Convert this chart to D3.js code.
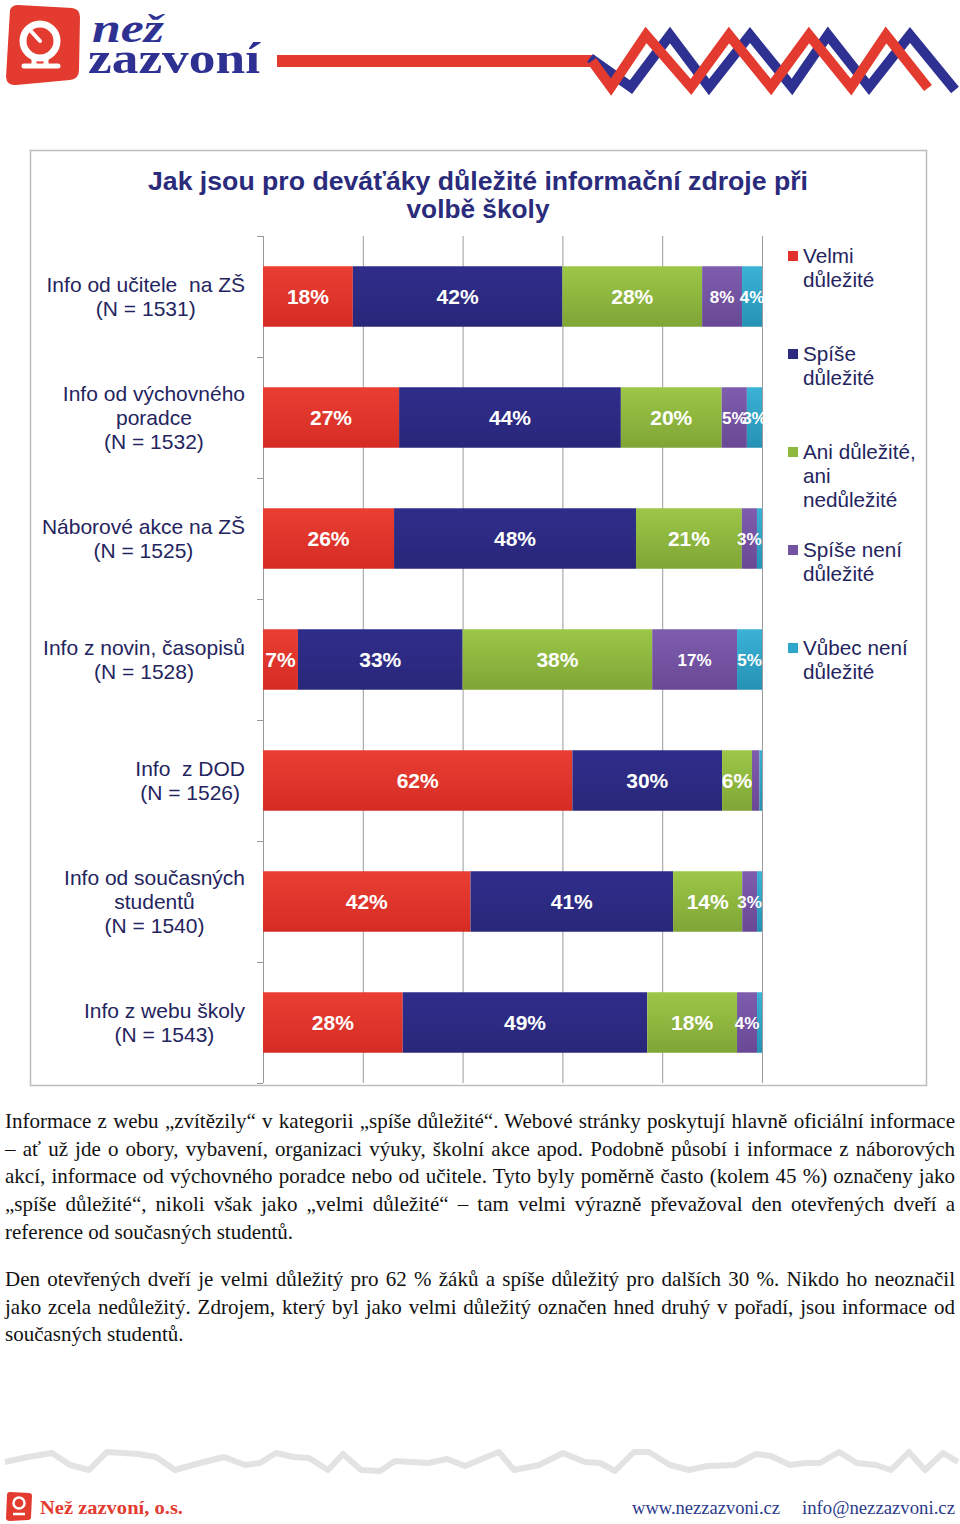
<!DOCTYPE html>
<html><head><meta charset="utf-8">
<script src="https://cdn.jsdelivr.net/npm/d3@7"></script>
<style>html,body{margin:0;padding:0;background:#fff;}svg{display:block;} text{white-space:pre;}</style>
</head><body>
<svg id="c" width="960" height="1524"></svg>
<script>
// ---------------- data ----------------
const categories = [
  "Info od učitele  na ZŠ (N = 1531)",
  "Info od výchovného poradce (N = 1532)",
  "Náborové akce na ZŠ (N = 1525)",
  "Info z novin, časopisů (N = 1528)",
  "Info  z DOD (N = 1526)",
  "Info od současných studentů (N = 1540)",
  "Info z webu školy (N = 1543)"
];
const categoryLines = [
  ["Info od učitele  na ZŠ", "(N = 1531)"],
  ["Info od výchovného", "poradce", "(N = 1532)"],
  ["Náborové akce na ZŠ", "(N = 1525)"],
  ["Info z novin, časopisů", "(N = 1528)"],
  ["Info  z DOD", "(N = 1526)"],
  ["Info od současných", "studentů", "(N = 1540)"],
  ["Info z webu školy", "(N = 1543)"]
];
const seriesNames = ["Velmi důležité", "Spíše důležité", "Ani důležité, ani nedůležité", "Spíše není důležité", "Vůbec není důležité"];
const seriesLegendLines = [["Velmi", "důležité"], ["Spíše", "důležité"], ["Ani důležité,", "ani", "nedůležité"], ["Spíše není", "důležité"], ["Vůbec není", "důležité"]];
const velmi     = [18, 27, 26, 7, 62, 42, 28];
const spise     = [42, 44, 48, 33, 30, 41, 49];
const ani       = [28, 20, 21, 38, 6, 14, 18];
const spiseNeni = [8, 5, 3, 17, 1.5, 3, 4];
const vubecNeni = [4, 3, 1, 5, 0.5, 1, 1];
const xTicks = [0, 0.2, 0.4, 0.6, 0.8, 1];
const titleLines = ["Jak jsou pro deváťáky důležité informační zdroje při", "volbě školy"];

const paragraph1 = [
  "Informace z webu „zvítězily“ v kategorii „spíše důležité“. Webové stránky poskytují hlavně oficiální informace",
  "– ať už jde o obory, vybavení, organizaci výuky, školní akce apod. Podobně působí i informace z náborových",
  "akcí, informace od výchovného poradce nebo od učitele. Tyto byly poměrně často (kolem 45 %) označeny jako",
  "„spíše důležité“, nikoli však jako „velmi důležité“ – tam velmi výrazně převažoval den otevřených dveří a",
  "reference od současných studentů."
];
const paragraph2 = [
  "Den otevřených dveří je velmi důležitý pro 62 % žáků a spíše důležitý pro dalších 30 %. Nikdo ho neoznačil",
  "jako zcela nedůležitý. Zdrojem, který byl jako velmi důležitý označen hned druhý v pořadí, jsou informace od",
  "současných studentů."
];

// ---------------- drawing ----------------
const svg = d3.select("#c");
const colors = ["#E2312A", "#2C2A80", "#8CB83C", "#7453A2", "#2DA6CA"];
const colorsTop = ["#EA3E33", "#2F2D8A", "#9CC747", "#7E5DAE", "#3BB2D6"];
const colorsBot = ["#D42C24", "#29277A", "#7FA536", "#694895", "#2592B4"];
const navy = "#24245E";

const defs = svg.append("defs");
colors.forEach((c, i) => {
  const g = defs.append("linearGradient").attr("id", "g" + i).attr("x1", 0).attr("y1", 0).attr("x2", 0).attr("y2", 1);
  g.append("stop").attr("offset", "0%").attr("stop-color", colorsTop[i]);
  g.append("stop").attr("offset", "100%").attr("stop-color", colorsBot[i]);
});

// ---- header ----
const hdr = svg.append("g");
hdr.append("path").attr("d", "M10,10 Q12,5 18,5 L72,8 Q80,9 80,17 L79,70 Q79,79 70,80 L16,85 Q7,86 6,77 Z").attr("fill", "#E33B2F");
hdr.append("circle").attr("cx", 40).attr("cy", 41).attr("r", 17).attr("fill", "none").attr("stroke", "#fff").attr("stroke-width", 7);
hdr.append("path").attr("d", "M40,41 L30,30").attr("stroke", "#fff").attr("stroke-width", 4).attr("stroke-linecap", "round");
hdr.append("path").attr("d", "M24,66 L58,66 M34,58 L34,66 M46,58 L46,66").attr("stroke", "#fff").attr("stroke-width", 5).attr("stroke-linecap", "round");
hdr.append("text").attr("x", 92).attr("y", 42).attr("font-family", "Liberation Serif").attr("font-weight", "bold").attr("font-style", "italic")
  .attr("font-size", 40).attr("fill", "#2E3192").attr("textLength", 72).attr("lengthAdjust", "spacingAndGlyphs").text("než");
hdr.append("text").attr("x", 88).attr("y", 73).attr("font-family", "Liberation Serif").attr("font-weight", "bold")
  .attr("font-size", 44).attr("fill", "#2E3192").attr("textLength", 172).attr("lengthAdjust", "spacingAndGlyphs").text("zazvoní");
hdr.append("rect").attr("x", 277).attr("y", 55).attr("width", 318).attr("height", 12).attr("fill", "#E33B2F");
hdr.append("polyline").attr("points", "590,58 631,87 670,35 709,87 750,35 792,87 828,35 869,87 910,35 955,90")
  .attr("fill", "none").attr("stroke", "#2E3192").attr("stroke-width", 10).attr("stroke-linejoin", "miter");
hdr.append("polyline").attr("points", "592,61 611,87 646,35 691,87 729,35 771,87 809,35 851,87 886,35 928,88")
  .attr("fill", "none").attr("stroke", "#E33B2F").attr("stroke-width", 10).attr("stroke-linejoin", "miter");

// ---- chart frame ----
svg.append("rect").attr("x", 30.5).attr("y", 150.5).attr("width", 896).attr("height", 935)
  .attr("fill", "#fff").attr("stroke", "#bdbdbd").attr("stroke-width", 1.5);

// title
titleLines.forEach((t, i) => {
  svg.append("text").attr("x", 478).attr("y", 190 + i * 28).attr("text-anchor", "middle")
    .attr("font-family", "Liberation Sans").attr("font-weight", "bold").attr("font-size", 26).attr("fill", "#2B2B7C")
    .attr("textLength", i === 0 ? 660 : 143).attr("lengthAdjust", "spacingAndGlyphs").text(t);
});

// scales
const x = d3.scaleLinear().domain([0, 1]).range([263, 762]);
const y = d3.scaleBand().domain(categories).range([236, 1083]).paddingInner(0.5).paddingOuter(0.25);

// gridlines
svg.append("g").selectAll("line").data(xTicks).join("line")
  .attr("x1", d => x(d) + 0.5).attr("x2", d => x(d) + 0.5).attr("y1", 236).attr("y2", 1083)
  .attr("stroke", "#9a9a9a").attr("stroke-width", 1);
// y axis ticks
const step = y.step();
const bounds = d3.range(categories.length + 1).map(k => 236 + k * step);
svg.append("g").selectAll("line").data(bounds).join("line")
  .attr("x1", 257).attr("x2", 263).attr("y1", d => d + 0.5).attr("y2", d => d + 0.5)
  .attr("stroke", "#9a9a9a").attr("stroke-width", 1);

// stack
const rows = categories.map((c, i) => ({cat: c, s0: velmi[i], s1: spise[i], s2: ani[i], s3: spiseNeni[i], s4: vubecNeni[i]}));
const keys = ["s0", "s1", "s2", "s3", "s4"];
const stacked = d3.stack().keys(keys).offset(d3.stackOffsetExpand)(rows);

const gBars = svg.append("g");
stacked.forEach((layer, si) => {
  gBars.append("g").selectAll("rect").data(layer).join("rect")
    .attr("x", d => x(d[0])).attr("width", d => Math.max(0, x(d[1]) - x(d[0])))
    .attr("y", d => y(d.data.cat)).attr("height", y.bandwidth())
    .attr("fill", "url(#g" + si + ")");
});
// labels
stacked.forEach((layer, si) => {
  gBars.append("g").selectAll("text").data(layer.filter(d => d.data[keys[si]] >= 2)).join("text")
    .attr("x", d => (x(d[0]) + x(d[1])) / 2)
    .attr("y", d => y(d.data.cat) + y.bandwidth() / 2)
    .attr("dy", "0.36em").attr("text-anchor", "middle")
    .attr("font-family", "Liberation Sans").attr("font-weight", "bold")
    .attr("font-size", si >= 3 ? 17 : 21).attr("fill", "#fff")
    .text(d => d.data[keys[si]] + "%");
});

// category labels
categories.forEach((c, i) => {
  const lines = categoryLines[i];
  const cy = y(c) + y.bandwidth() / 2;
  const t = svg.append("text").attr("font-family", "Liberation Sans").attr("font-size", 21).attr("fill", navy).attr("text-anchor", "middle");
  lines.forEach((l, j) => t.append("tspan").attr("y", cy - (lines.length - 1) * 12 + j * 24 + 7).text(l));
  let maxW = 0;
  t.selectAll("tspan").each(function () { maxW = Math.max(maxW, this.getComputedTextLength()); });
  t.selectAll("tspan").attr("x", 245 - maxW / 2);
});

// legend
seriesLegendLines.forEach((lines, i) => {
  const cy = 256 + i * 98;
  svg.append("rect").attr("x", 788).attr("y", cy - 5).attr("width", 10).attr("height", 10).attr("fill", colors[i]);
  const t = svg.append("text").attr("font-family", "Liberation Sans").attr("font-size", 20.7).attr("fill", navy);
  lines.forEach((l, j) => t.append("tspan").attr("x", 803).attr("y", cy + 7 + j * 24).text(l));
});

// ---- paragraphs ----
function drawPara(lines, y0) {
  lines.forEach((l, i) => {
    const t = svg.append("text").attr("x", 5).attr("y", y0 + i * 27.7)
      .attr("font-family", "Liberation Serif").attr("font-size", 21).attr("fill", "#111").text(l);
    if (i < lines.length - 1) {
      const w = t.node().getComputedTextLength();
      const spaces = (l.match(/ /g) || []).length;
      if (spaces > 0) t.attr("word-spacing", (950 - w) / spaces);
    }
  });
}
drawPara(paragraph1, 1128);
drawPara(paragraph2, 1286);

// ---- footer ----
const wave = [[5,1462],[28,1457],[52,1453],[70,1465],[89,1470],[107,1452],[138,1454],[156,1457],[175,1470],[196,1464],[224,1457],[245,1465],[260,1463],[276,1453],[294,1457],[309,1458],[328,1470],[343,1454],[361,1470],[380,1471],[395,1461],[428,1463],[447,1459],[465,1466],[484,1458],[499,1452],[514,1470],[539,1465],[563,1453],[585,1462],[600,1463],[615,1471],[634,1452],[649,1452],[670,1465],[689,1470],[707,1466],[735,1465],[756,1454],[771,1456],[790,1465],[805,1463],[820,1463],[839,1452],[857,1463],[876,1465],[891,1470],[909,1452],[925,1470],[943,1453],[958,1462]];
svg.append("path").attr("d", d3.line()(wave)).attr("fill", "none").attr("stroke", "#e3e3e3").attr("stroke-width", 6).attr("stroke-linejoin", "round");
const fl = svg.append("g");
fl.append("path").attr("d", "M7,1495 Q7,1492 10,1492 L29,1493 Q32,1493 32,1496 L31,1517 Q31,1520 28,1520 L10,1521 Q6,1521 6,1518 Z").attr("fill", "#E33B2F");
fl.append("circle").attr("cx", 19).attr("cy", 1503).attr("r", 5.5).attr("fill", "none").attr("stroke", "#fff").attr("stroke-width", 2.5);
fl.append("path").attr("d", "M13,1514 L25,1514").attr("stroke", "#fff").attr("stroke-width", 2.5);
svg.append("text").attr("x", 40).attr("y", 1514).attr("font-family", "Liberation Serif").attr("font-weight", "bold").attr("font-size", 19)
  .attr("fill", "#E33B2F").attr("textLength", 143).attr("lengthAdjust", "spacingAndGlyphs").text("Než zazvoní, o.s.");
svg.append("text").attr("x", 632).attr("y", 1514).attr("font-family", "Liberation Serif").attr("font-size", 19)
  .attr("fill", "#2B3A8C").attr("textLength", 148).attr("lengthAdjust", "spacingAndGlyphs").text("www.nezzazvoni.cz");
svg.append("text").attr("x", 802).attr("y", 1514).attr("font-family", "Liberation Serif").attr("font-size", 19)
  .attr("fill", "#2B3A8C").attr("textLength", 153).attr("lengthAdjust", "spacingAndGlyphs").text("info@nezzazvoni.cz");
</script>
</body></html>
